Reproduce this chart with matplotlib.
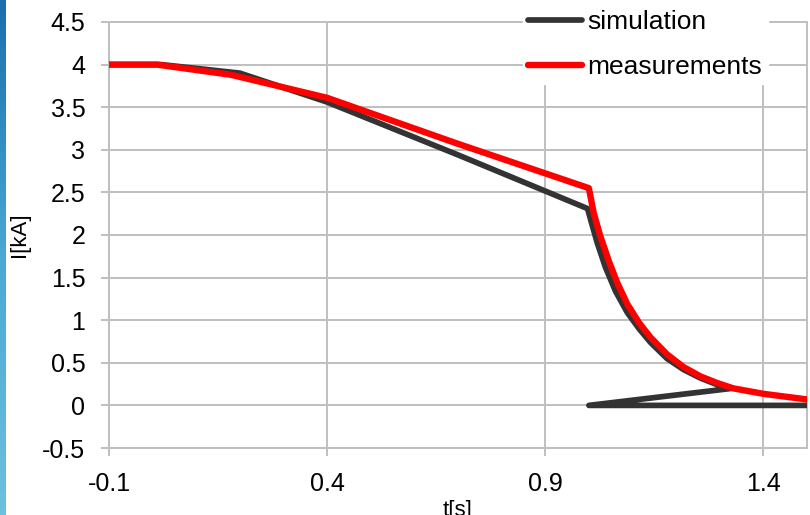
import numpy as np
import matplotlib
matplotlib.use("Agg")
import matplotlib.pyplot as plt
from matplotlib.colors import LinearSegmentedColormap

plt.rcParams['font.family'] = ['Liberation Sans', 'DejaVu Sans']

# simulation curve (wraps back to t=1.0 at the end, as in the source data)
t_sim = [-0.1, 0.02, 0.2, 0.4, 0.7, 0.997, 1.004, 1.019, 1.038, 1.061,
         1.088, 1.115, 1.141, 1.179, 1.217, 1.256, 1.293, 1.328, 1.0, 1.5]
i_sim = [4.0, 4.0, 3.9, 3.56, 2.94, 2.31, 2.18, 1.91, 1.62, 1.34,
         1.09, 0.90, 0.74, 0.55, 0.42, 0.32, 0.245, 0.20, 0.0, 0.0]

# measurements
t_meas = [-0.1, 0.01, 0.18, 0.29, 0.4, 0.7, 1.0, 1.011, 1.026, 1.046, 1.065,
          1.088, 1.115, 1.141, 1.179, 1.217, 1.256, 1.293, 1.331, 1.4, 1.5]
i_meas = [4.0, 4.0, 3.88, 3.745, 3.61, 3.07, 2.55, 2.26, 1.99, 1.69, 1.44,
          1.19, 0.97, 0.80, 0.60, 0.45, 0.34, 0.265, 0.20, 0.136, 0.07]

x_ticks = [-0.1, 0.4, 0.9, 1.4]
x_labels = ["-0.1", "0.4", "0.9", "1.4"]
y_ticks = [-0.5, 0, 0.5, 1, 1.5, 2, 2.5, 3, 3.5, 4, 4.5]
y_labels = ["-0.5", "0", "0.5", "1", "1.5", "2", "2.5", "3", "3.5", "4", "4.5"]

grid_col = '#bfbfbf'

fig = plt.figure(figsize=(8.1, 5.15), dpi=100)
ax = fig.add_axes([109/810, 67/515, (807-109)/810, (448-22)/515])

ax.plot(t_sim, i_sim, color='#333333', lw=4.1, solid_capstyle='round',
        solid_joinstyle='round', label='simulation', zorder=3)
ax.plot(t_meas, i_meas, color='#ff0000', lw=4.6, solid_capstyle='round',
        solid_joinstyle='round', label='measurements', zorder=4)

ax.set_xlim(-0.1, 1.5)
ax.set_ylim(-0.5, 4.5)
ax.set_xticks(x_ticks)
ax.set_xticklabels(x_labels)
ax.set_yticks(y_ticks)
ax.set_yticklabels(y_labels)
ax.grid(True, color=grid_col, lw=1.4)
ax.set_axisbelow(True)
for s in ax.spines.values():
    s.set_color(grid_col)
    s.set_linewidth(1.4)
ax.tick_params(direction='out', length=6, width=1.4, color=grid_col,
               pad=11, labelsize=18)

ax.set_ylabel("I[kA]", fontsize=16, labelpad=9)
ax.set_xlabel("t[s]", fontsize=16, labelpad=3)

leg = ax.legend(loc='upper left', bbox_to_anchor=(523/810, 1 - 5/515),
                bbox_transform=fig.transFigure, borderaxespad=0,
                fontsize=19, handlelength=2.05, handletextpad=0.2,
                labelspacing=0.78, borderpad=0.2, frameon=True,
                fancybox=False, framealpha=1)
leg.get_frame().set_edgecolor('white')
leg.get_frame().set_facecolor('white')
leg.set_zorder(10)

# blue strip on the left edge
strip = fig.add_axes([0, 0, 6/810, 1])
cmap = LinearSegmentedColormap.from_list('strip', ['#1a6fae', '#4aa8d4', '#6cc0e0'])
strip.imshow(np.linspace(0, 1, 100).reshape(-1, 1), aspect='auto', cmap=cmap)
strip.axis('off')

fig.savefig("out.png", dpi=100)
